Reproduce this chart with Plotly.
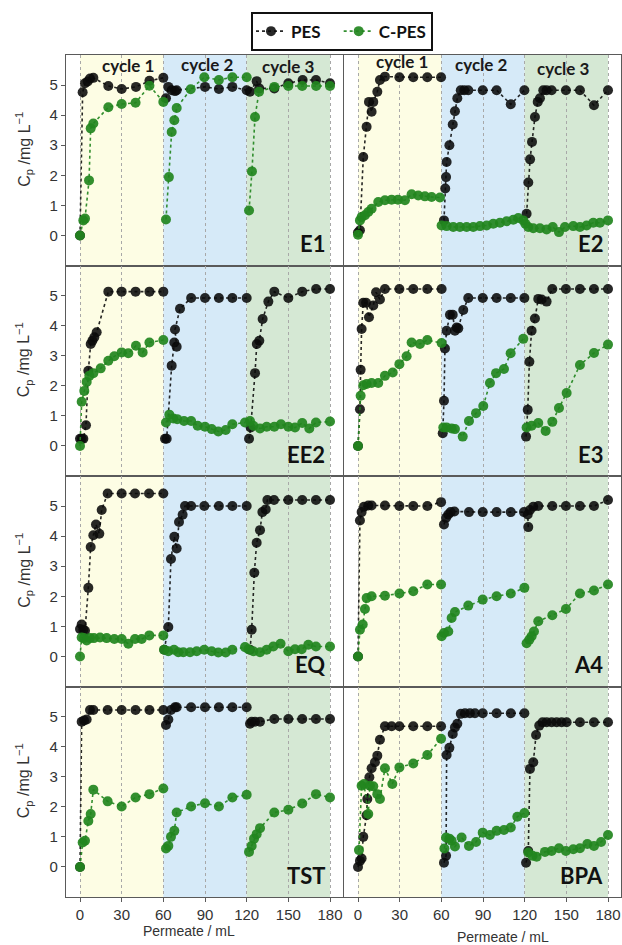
import plotly.graph_objects as go

# ---------------- data (Permeate / mL, Cp / mg L-1); None separates cycles ----------------
E1_pes_x = [0, 1.9, 3.6, 5.5, 7.2, 9.6, 20.4, 30, 40.3, 50, 60, None,
            61.9, 63.6, 66, 68.4, 69.6, 90, 100, 109.7, 120, None,
            122.4, 127.2, 129, 139.9, 150, 160.3, 169.9, 180]
E1_pes_y = [0, 4.76, 5.06, 5.12, 5.22, 5.24, 4.97, 4.87, 4.94, 5.14, 5.24, None,
            4.56, 4.94, 4.83, 4.8, 4.83, 4.94, 4.87, 4.94, 4.83, None,
            4.78, 5.13, 4.89, 4.89, 5.06, 5.17, 5.17, 5.06]
E1_cpes_x = [0, 2.4, 3.6, 6.5, 7.7, 9.6, 20.4, 30, 40, 50, 60, None,
             61.9, 64, 66, 67.9, 69.6, 79.7, 89.5, 100, 109.7, 120, None,
             121.7, 123.8, 126, 128.9, 139.9, 150, 160, 170, 180]
E1_cpes_y = [0, 0.5, 0.56, 1.83, 3.56, 3.72, 4.26, 4.37, 4.41, 4.98, 4.44, None,
             0.53, 1.94, 3.44, 3.83, 4.24, 4.86, 5.26, 5.17, 5.26, 5.26, None,
             0.83, 2.13, 3.94, 4.78, 4.94, 4.97, 4.97, 4.97, 4.97]

E2_pes_x = [0, 1.4, 3.8, 6.2, 7.9, 9.8, 11, 13.9, 15.8, 19.4, 29.8, 39.8, 49.9, 59.8, None,
            61.9, 62.8, 63.4, 63.8, 65.8, 68.2, 69.8, 71.5, 74, 76.5, 79.4, 89.8, 99.8, 110, 119.8, None,
            121.4, 122.6, 123.9, 125.3, 127.4, 129.4, 131, 133.4, 135.8, 139.4, 149.7, 159.8, 169.9, 180]
E2_pes_y = [0.1, 0.17, 2.61, 3.61, 4.44, 4.11, 4.44, 4.78, 5.17, 5.28, 5.26, 5.26, 5.26, 5.26, None,
            0.5, 1.56, 1.94, 2.44, 3.0, 3.69, 4.13, 4.56, 4.83, 4.83, 4.83, 4.83, 4.83, 4.36, 4.83, None,
            0.72, 1.76, 2.53, 3.11, 3.94, 4.44, 4.56, 4.83, 4.83, 4.83, 4.83, 4.83, 4.33, 4.83]
E2_cpes_x = [0, 1.4, 2.6, 5, 7.4, 9.8, 14.6, 19.4, 24.2, 28.8, 33.8, 38.6, 43.4, 48.2, 53, 59, None,
             60.2, 63.8, 68.6, 73.4, 78.2, 83, 87.8, 92.6, 97.4, 102.2, 107, 111.8, 115.4, 119, None,
             120.5, 122.6, 126.2, 131, 135.8, 140.2, 144.7, 149, 155, 159.8, 164.6, 169.4, 174.2, 180]
E2_cpes_y = [0.02, 0.5, 0.61, 0.67, 0.78, 0.89, 1.11, 1.17, 1.19, 1.19, 1.17, 1.37, 1.33, 1.3, 1.28, 1.26, None,
             0.33, 0.31, 0.28, 0.28, 0.28, 0.28, 0.31, 0.33, 0.39, 0.42, 0.47, 0.52, 0.58, 0.5, None,
             0.39, 0.28, 0.24, 0.24, 0.2, 0.28, 0.11, 0.28, 0.31, 0.28, 0.33, 0.42, 0.42, 0.5]

EE2_pes_x = [0, 1.2, 2.4, 4.3, 6, 7.7, 8.9, 10.3, 12, 20.4, 30, 40, 50, 60, None,
             61.2, 62.4, 66, 67.9, 69.6, 68.4, 72, 80, 90, 100, 109.7, 120, None,
             121.7, 122.9, 126, 127.3, 129.1, 131.5, 135.6, 139.9, 150, 160, 170, 180]
EE2_pes_y = [0.24, 0.24, 0.24, 0.69, 2.5, 3.39, 3.5, 3.61, 3.78, 5.13, 5.13, 5.13, 5.13, 5.13, None,
             0.24, 0.24, 2.67, 3.44, 3.3, 3.87, 4.56, 4.92, 4.92, 4.92, 4.92, 4.92, None,
             0.24, 0.61, 2.42, 3.39, 3.5, 4.22, 4.8, 5.13, 4.92, 5.13, 5.22, 5.22]
EE2_cpes_x = [0, 1.2, 3.1, 4.8, 6.7, 9.6, 14.9, 20.4, 24.7, 30, 34.8, 40.3, 45.1, 50, 60, None,
              61.9, 64.3, 67.2, 70, 74.9, 80, 84.7, 90, 94.8, 99.6, 104.9, 109.7, 118.8, None,
              122.4, 124.8, 129.6, 134.4, 139.9, 144.7, 150, 154.8, 160, 165.1, 169.9, 180]
EE2_cpes_y = [0, 1.47, 1.83, 2.13, 2.33, 2.42, 2.58, 2.83, 2.98, 3.11, 3.08, 3.33, 3.11, 3.44, 3.52, None,
              0.78, 1.04, 0.91, 0.89, 0.83, 0.83, 0.67, 0.64, 0.56, 0.48, 0.53, 0.72, 0.78, None,
              0.83, 0.67, 0.58, 0.64, 0.64, 0.72, 0.64, 0.61, 0.76, 0.58, 0.78, 0.81]

E3_pes_x = [0, 1.4, 1.9, 2.6, 3.8, 5.8, 7.9, 11, 13, 15.8, 19.4, 29.8, 39.8, 49.9, 60.2, None,
            61, 61.9, 62.6, 63.8, 66.2, 68.2, 69.8, 71, 72.2, 75.8, 79.4, 89.8, 99.8, 110, 119.8, None,
            121, 122.2, 123.4, 125, 127.4, 129.8, 132.2, 135.8, 139.9, 149.7, 159.8, 169.9, 180]
E3_pes_y = [0, 1.22, 2.53, 3.89, 4.76, 4.76, 4.28, 4.67, 5.11, 4.87, 5.22, 5.22, 5.22, 5.22, 5.22, None,
            0.42, 1.5, 3.24, 3.83, 4.36, 4.36, 3.83, 3.94, 3.91, 4.52, 4.92, 4.92, 4.92, 4.92, 4.92, None,
            0.31, 1.2, 2.8, 3.83, 4.24, 4.89, 4.87, 4.8, 5.22, 5.22, 5.22, 5.22, 5.22]
E3_cpes_x = [0, 1.9, 3.8, 6.2, 9.8, 14.6, 19.4, 25, 29.8, 35, 38.6, 44.6, 49.9, 60.2, None,
             61.4, 63.8, 67.4, 69.8, 75.4, 79.9, 85, 90.2, 95, 99.4, 105.1, 109.9, 119, None,
             121.4, 125, 129.8, 135.1, 139.9, 144.7, 150.2, 159.8, 169.9, 180]
E3_cpes_y = [0, 1.67, 2.02, 2.06, 2.09, 2.09, 2.33, 2.44, 2.72, 2.98, 3.44, 3.39, 3.52, 3.42, None,
             0.61, 0.61, 0.58, 0.56, 0.31, 0.83, 1.09, 1.33, 2.09, 2.42, 2.56, 3.08, 3.56, None,
             0.61, 0.67, 0.76, 0.5, 0.8, 1.26, 1.76, 2.69, 3.09, 3.37]

EQ_pes_x = [0, 1.2, 2.4, 3.6, 6, 7.7, 9.6, 11.5, 13.9, 15.6, 19.9, 30, 39.6, 49.7, 60, None,
            60.7, 63.6, 65.5, 67.9, 69.6, 71.3, 73.9, 75.6, 80, 89.5, 100, 109.7, 120, None,
            122.4, 123.6, 125.5, 127.2, 129.6, 131.3, 133.7, 134.9, 139.7, 150, 160, 169.9, 180]
EQ_pes_y = [0.91, 1.06, 0.89, 0.85, 2.28, 3.64, 4.03, 4.39, 4.08, 4.87, 5.42, 5.42, 5.42, 5.42, 5.42, None,
            0.22, 0.98, 3.24, 3.98, 3.59, 4.47, 4.71, 5.0, 5.0, 5.0, 5.0, 5.0, 5.0, None,
            0.22, 0.89, 2.78, 3.78, 4.2, 4.8, 4.89, 5.2, 5.2, 5.2, 5.2, 5.2, 5.2]
EQ_cpes_x = [0, 1.2, 2.9, 4.8, 7.2, 10, 14.4, 19.2, 24.7, 30, 34.8, 39.6, 44.4, 49.9, 60, None,
             60.5, 63.6, 67.7, 70.8, 74.4, 79.2, 84, 89.5, 94.8, 99.6, 104.9, 109.7, 118.8, None,
             121.2, 124.8, 129.6, 134.4, 139.2, 144.4, 150, 154.8, 159.6, 164.4, 169.9, 180]
EQ_cpes_y = [0, 0.63, 0.61, 0.53, 0.61, 0.61, 0.63, 0.61, 0.58, 0.58, 0.42, 0.58, 0.58, 0.7, 0.7, None,
             0.22, 0.17, 0.22, 0.14, 0.14, 0.14, 0.17, 0.22, 0.17, 0.13, 0.13, 0.22, 0.31, None,
             0.24, 0.17, 0.14, 0.22, 0.33, 0.42, 0.17, 0.24, 0.24, 0.39, 0.33, 0.33]

A4_pes_x = [0, 1.4, 2.6, 4.3, 7.4, 9.8, 19.4, 29.8, 39.8, 49.9, 59.8, None,
            61.9, 63.4, 65, 66.7, 69.4, 79.9, 89.8, 99.8, 110, 119.5, None,
            122.6, 122.2, 123.8, 126.2, 129.8, 139.9, 149.7, 159.8, 169.9, 180]
A4_pes_y = [0, 4.52, 4.8, 4.98, 5.02, 5.02, 5.02, 5.0, 5.0, 5.0, 5.13, None,
            4.39, 4.61, 4.72, 4.8, 4.82, 4.8, 4.8, 4.8, 4.8, 4.8, None,
            4.3, 4.72, 4.87, 4.98, 5.0, 5.0, 5.0, 5.0, 5.0, 5.2]
A4_cpes_x = [0, 1.4, 3.4, 5, 6.2, 9.8, 19.4, 29.8, 39.8, 49.9, 59.8, None,
             60.2, 61.9, 65, 67.4, 69.8, 79.4, 89.8, 99.8, 110, 119.8, None,
             121.4, 123.4, 125, 126.7, 129.8, 139.9, 149.7, 159.8, 169.9, 180]
A4_cpes_y = [0, 0.89, 1.06, 1.58, 1.94, 2.0, 2.02, 2.09, 2.17, 2.39, 2.39, None,
             0.67, 0.78, 0.83, 1.28, 1.48, 1.69, 1.89, 2.0, 2.09, 2.28, None,
             0.44, 0.56, 0.67, 0.83, 1.17, 1.37, 1.58, 2.09, 2.19, 2.39]

TST_pes_x = [0, 1.2, 2.9, 4.8, 7.2, 9.6, 19.9, 30, 40, 50, 60, None,
             61.9, 63.6, 65.5, 68.4, 69.6, 80, 90, 100, 109.7, 120, None,
             122.4, 123.6, 126, 129.6, 139.9, 150, 160, 169.9, 180]
TST_pes_y = [0, 4.83, 4.87, 4.9, 5.22, 5.22, 5.22, 5.22, 5.22, 5.22, 5.22, None,
             4.72, 4.9, 5.22, 5.31, 5.31, 5.31, 5.31, 5.31, 5.31, 5.31, None,
             4.76, 4.83, 4.83, 4.83, 4.92, 4.92, 4.92, 4.92, 4.92]
TST_cpes_x = [0, 1.9, 3.6, 6, 7.7, 9.6, 19.9, 30, 40, 50, 60, None,
              61.9, 63.6, 65.5, 67.9, 69.6, 80, 90, 100, 109.7, 120, None,
              121.7, 123.6, 125.3, 127.2, 129.6, 139.9, 150, 160, 169.9, 180]
TST_cpes_y = [0, 0.81, 0.87, 1.53, 1.76, 2.57, 2.18, 2.01, 2.31, 2.42, 2.61, None,
              0.61, 0.7, 1.0, 1.2, 1.81, 2.01, 2.12, 2.01, 2.31, 2.4, None,
              0.5, 0.7, 0.94, 1.09, 1.29, 1.81, 1.9, 2.11, 2.42, 2.31]

BPA_pes_x = [0, 1.4, 2.6, 3.8, 6.2, 6.7, 8.2, 9.8, 12.2, 13.9, 15.8, 19.4, 24.2, 29.8, 39.8, 49.9, 59.8, None,
             61.9, 63.4, 63.8, 65.8, 68.2, 69.8, 71.5, 74, 77, 80.6, 84.2, 89.8, 99.8, 110, 119.8, None,
             121, 122.6, 123.8, 126.2, 128.2, 130.5, 132.9, 135.8, 139.4, 143, 146.6, 150.2, 159.8, 169.9, 180]
BPA_pes_y = [0, 0.2, 0.28, 1.0, 1.72, 2.26, 2.98, 3.28, 3.48, 3.7, 4.23, 4.68, 4.68, 4.68, 4.68, 4.68, 4.68, None,
             0.14, 0.37, 3.72, 3.96, 4.42, 4.64, 4.76, 5.09, 5.11, 5.11, 5.11, 5.11, 5.11, 5.11, 5.11, None,
             0.14, 0.53, 3.26, 3.48, 4.39, 4.7, 4.81, 4.81, 4.81, 4.81, 4.81, 4.81, 4.81, 4.81, 4.81]
BPA_cpes_x = [0.7, 2.6, 4.3, 7.4, 8.6, 11, 13.9, 15.8, 19.4, 24.7, 29.8, 39.8, 49.9, 59.8, None,
              62.2, 63.4, 65.8, 67.4, 69.8, 74.6, 79.9, 85, 89.8, 95, 99.8, 105.1, 110, 114.7, 119.8, None,
              122.6, 125.7, 128.6, 134.6, 139.4, 144.7, 149.7, 155, 159.8, 165.1, 169.9, 175, 180]
BPA_cpes_y = [0.56, 2.7, 2.76, 1.76, 2.7, 2.68, 2.42, 2.26, 3.28, 2.76, 3.31, 3.44, 3.72, 4.26, None,
              0.61, 0.98, 0.94, 0.87, 0.68, 0.98, 0.7, 0.83, 1.14, 1.06, 1.2, 1.23, 1.31, 1.67, 1.79, None,
              0.48, 0.37, 0.34, 0.5, 0.53, 0.62, 0.53, 0.59, 0.62, 0.76, 0.7, 0.83, 1.06]

panel_names = ["E1", "E2", "EE2", "E3", "EQ", "A4", "TST", "BPA"]
panel_data = [
    (E1_pes_x, E1_pes_y, E1_cpes_x, E1_cpes_y),
    (E2_pes_x, E2_pes_y, E2_cpes_x, E2_cpes_y),
    (EE2_pes_x, EE2_pes_y, EE2_cpes_x, EE2_cpes_y),
    (E3_pes_x, E3_pes_y, E3_cpes_x, E3_cpes_y),
    (EQ_pes_x, EQ_pes_y, EQ_cpes_x, EQ_cpes_y),
    (A4_pes_x, A4_pes_y, A4_cpes_x, A4_cpes_y),
    (TST_pes_x, TST_pes_y, TST_cpes_x, TST_cpes_y),
    (BPA_pes_x, BPA_pes_y, BPA_cpes_x, BPA_cpes_y),
]
cycle_labels = ["cycle 1", "cycle 2", "cycle 3"]
cycle_bounds = [(0, 60), (60, 120), (120, 180)]
x_ticks = [0, 30, 60, 90, 120, 150, 180]
y_ticks = [0, 1, 2, 3, 4, 5]

# ---------------- styling ----------------
W, H = 622, 945
cycle_colors = ["#fdfde4", "#d6eaf8", "#d5e8d4"]
pes_color = "rgba(10,10,10,0.88)"
cpes_color = "rgba(34,134,30,0.92)"
frame_color = "#5a5a5a"
sans = "Liberation Sans, Arial, sans-serif"
tick_font = dict(family=sans, size=15, color="#333333")
bold_font = "Lato, Open Sans, sans-serif"

col_dom = [(66 / W, 343 / W), (344 / W, 621 / W)]
row_px = [55, 265.5, 476, 686.5, 897]
XR = [-10.08, 189.36]
YR = [-1, 6]

fig = go.Figure()
layout = {}
shapes = []
annotations = []

for i, name in enumerate(panel_names):
    r, c = divmod(i, 2)
    k = i + 1
    xa = "x" if k == 1 else f"x{k}"
    ya = "y" if k == 1 else f"y{k}"
    xkey = "xaxis" if k == 1 else f"xaxis{k}"
    ykey = "yaxis" if k == 1 else f"yaxis{k}"
    ydom = (1 - row_px[r + 1] / H, 1 - row_px[r] / H)
    bottom = r == 3
    left = c == 0
    layout[xkey] = dict(
        domain=col_dom[c], anchor=ya, range=XR, tickvals=x_ticks,
        showgrid=True, gridcolor="#a8a8a8", griddash="dot", gridwidth=1,
        zeroline=False, showline=True, mirror=True, linecolor=frame_color, linewidth=1.3,
        showticklabels=bottom, ticks="outside" if bottom else "", ticklen=4,
        tickcolor=frame_color, tickfont=tick_font,
    )
    layout[ykey] = dict(
        domain=ydom, anchor=xa, range=YR, tickvals=y_ticks,
        showgrid=False, zeroline=False, showline=True, mirror=True,
        linecolor=frame_color, linewidth=1.3,
        showticklabels=left, ticks="outside" if left else "", ticklen=4,
        tickcolor=frame_color, tickfont=tick_font,
    )
    for (x0, x1), col in zip(cycle_bounds, cycle_colors):
        shapes.append(dict(type="rect", xref=xa, yref=f"{ya} domain", x0=x0, x1=x1,
                           y0=0, y1=1, fillcolor=col, line_width=0, layer="below"))
    px, py, cx, cy = panel_data[i]
    fig.add_trace(go.Scatter(
        x=px, y=py, mode="lines+markers", name="<b>PES</b>   ", legendgroup="pes",
        showlegend=(i == 0), xaxis=xa, yaxis=ya, connectgaps=False,
        line=dict(color=pes_color, dash="dot", width=1.6),
        marker=dict(color=pes_color, size=10)))
    fig.add_trace(go.Scatter(
        x=cx, y=cy, mode="lines+markers", name="<b>C-PES</b>", legendgroup="cpes",
        showlegend=(i == 0), xaxis=xa, yaxis=ya, connectgaps=False,
        line=dict(color=cpes_color, dash="dot", width=1.6),
        marker=dict(color=cpes_color, size=10)))
    annotations.append(dict(
        text=f"<b>{name}</b>", xref=xa, yref=ya, x=178, y=-0.8,
        xanchor="right", yanchor="bottom", showarrow=False,
        font=dict(family=bold_font, size=22, color="#111111")))
    if left:
        annotations.append(dict(
            text="C<sub>p</sub> /mg L<sup>−1</sup>", xref="paper", yref=ya,
            x=24 / W, y=2.85, xanchor="center", yanchor="middle", textangle=-90,
            showarrow=False, font=dict(family=sans, size=16, color="#333333")))
    if r == 0:
        cyc_pos = [(34.5, 5.65), (92, 5.68), (150, 5.62)] if left else [(31.7, 5.78), (89, 5.7), (148, 5.55)]
        for lab, (xx, yy) in zip(cycle_labels, cyc_pos):
            annotations.append(dict(
                text=f"<b>{lab}</b>", xref=xa, yref=ya, x=xx, y=yy,
                xanchor="center", yanchor="middle", showarrow=False,
                font=dict(family=bold_font, size=17, color="#1a1a1a")))

annotations.append(dict(text="Permeate / mL", xref="paper", yref="paper",
                        x=189 / W, y=1 - 931 / H, xanchor="center", yanchor="middle",
                        showarrow=False, font=dict(family=sans, size=14, color="#333333")))
annotations.append(dict(text="Permeate / mL", xref="paper", yref="paper",
                        x=503 / W, y=1 - 937 / H, xanchor="center", yanchor="middle",
                        showarrow=False, font=dict(family=sans, size=14, color="#333333")))

fig.update_layout(
    width=W, height=H, margin=dict(l=0, r=0, t=0, b=0),
    paper_bgcolor="white", plot_bgcolor="white",
    shapes=shapes, annotations=annotations,
    legend=dict(orientation="h", x=342 / W, y=1 - 12 / H, xanchor="center", yanchor="top",
                bordercolor="#111111", borderwidth=1.6, bgcolor="white",
                font=dict(family=bold_font, size=17, color="#111111"),
                itemwidth=30, tracegroupgap=0),
    **layout,
)

fig.write_html("out.html", config={"displayModeBar": False},
               post_script="document.body.style.margin='0';document.body.style.overflow='hidden';")
